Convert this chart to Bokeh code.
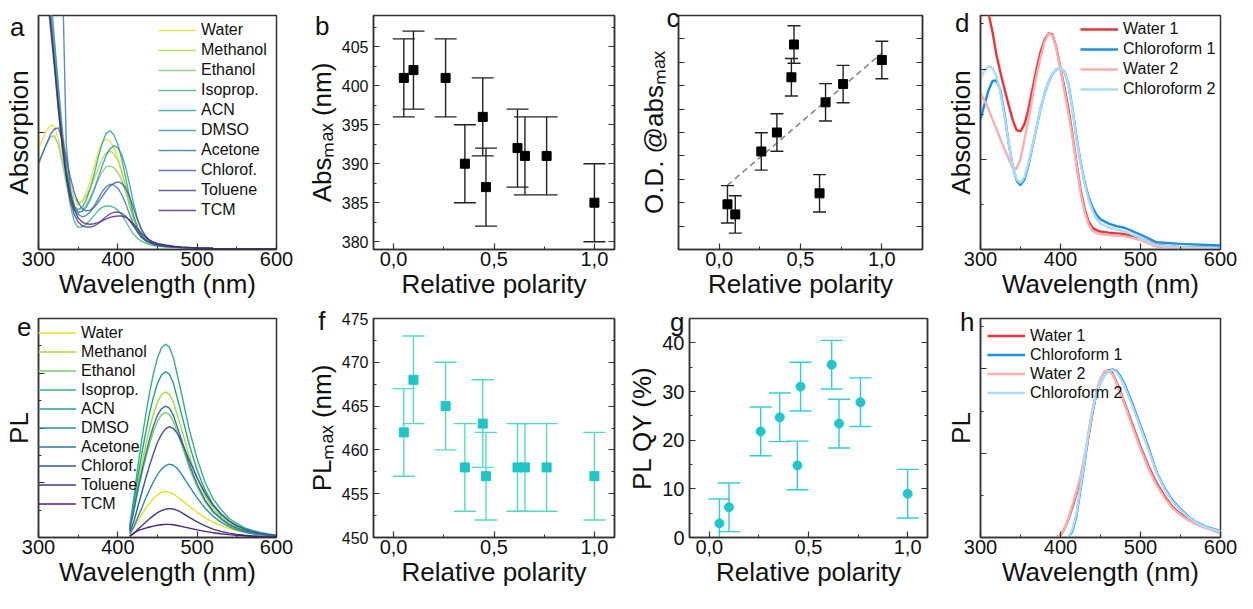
import math
from bokeh.plotting import figure
from bokeh.layouts import row, column
from bokeh.models import (FixedTicker, LinearAxis, Legend, LegendItem,
                          Range1d, CustomJSTickFormatter)
from bokeh.embed import file_html
from bokeh.resources import INLINE

FONT = "Liberation Sans"
INK = "#111111"
EDGE = "#333333"

# ------------------------------------------------------------------ data
SOLVENTS = ["Water", "Methanol", "Ethanol", "Isoprop.", "ACN", "DMSO",
            "Acetone", "Chlorof.", "Toluene", "TCM"]
SOLVENT_COLORS = ["#e2e21e", "#aad83a", "#78cc6a", "#34b47c", "#20a38e",
                  "#2592a0", "#2f75a0", "#3a58a2", "#45398f", "#4e1f7e"]

WL_TICKS = [300, 400, 500, 600]
WL_MINOR = [350, 450, 550]

# panel a : absorption spectra (relative units, frame = 0..1)
WL_ABS = [300, 305, 310, 315, 320, 325, 330, 335, 340, 345, 350, 355, 360, 365,
          370, 375, 380, 385, 390, 395, 400, 405, 410, 415, 420, 425, 430, 435,
          440, 445, 450, 460, 470, 480, 500, 520, 550, 600]
ABS_WATER = [0.43, 0.47, 0.51, 0.53, 0.53, 0.47, 0.39, 0.31, 0.24, 0.20, 0.19, 0.205, 0.24, 0.29,
             0.355, 0.415, 0.457, 0.472, 0.464, 0.436, 0.393, 0.336, 0.265, 0.187, 0.123, 0.08,
             0.051, 0.034, 0.026, 0.02, 0.016, 0.012, 0.009, 0.007, 0.005, 0.004, 0.003, 0.002]
ABS_METHANOL = [1.5, 1.35, 1.2, 1.05, 0.88, 0.7, 0.52, 0.38, 0.28, 0.22, 0.2, 0.205, 0.225, 0.26,
                0.3, 0.345, 0.385, 0.412, 0.42, 0.41, 0.38, 0.33, 0.27, 0.2, 0.14, 0.095,
                0.062, 0.042, 0.03, 0.023, 0.018, 0.013, 0.01, 0.008, 0.006, 0.004, 0.003, 0.002]
ABS_ETHANOL = [0.36, 0.41, 0.45, 0.48, 0.486, 0.45, 0.37, 0.28, 0.21, 0.17, 0.158, 0.165, 0.19, 0.22,
               0.255, 0.295, 0.33, 0.352, 0.357, 0.35, 0.33, 0.295, 0.245, 0.185, 0.13, 0.088,
               0.058, 0.04, 0.029, 0.022, 0.017, 0.013, 0.01, 0.008, 0.006, 0.004, 0.003, 0.002]
ABS_ISOPROP = [1.6, 1.4, 1.2, 1.0, 0.8, 0.6, 0.43, 0.3, 0.19, 0.12, 0.095, 0.097, 0.108, 0.125,
               0.145, 0.165, 0.18, 0.186, 0.186, 0.18, 0.168, 0.148, 0.12, 0.09, 0.065, 0.047,
               0.035, 0.027, 0.021, 0.017, 0.014, 0.011, 0.009, 0.007, 0.005, 0.004, 0.003, 0.002]
ABS_ACN = [1.55, 1.38, 1.2, 1.02, 0.84, 0.66, 0.48, 0.34, 0.24, 0.185, 0.17, 0.18, 0.21, 0.26,
           0.32, 0.39, 0.45, 0.495, 0.507, 0.49, 0.45, 0.385, 0.305, 0.22, 0.145, 0.09,
           0.058, 0.04, 0.03, 0.023, 0.018, 0.013, 0.01, 0.008, 0.006, 0.004, 0.003, 0.002]
ABS_DMSO = [1.7, 1.5, 1.3, 1.1, 0.9, 0.7, 0.5, 0.35, 0.245, 0.185, 0.16, 0.162, 0.18, 0.21,
            0.255, 0.305, 0.355, 0.4, 0.43, 0.443, 0.435, 0.405, 0.35, 0.275, 0.195, 0.128,
            0.082, 0.055, 0.039, 0.029, 0.022, 0.016, 0.012, 0.009, 0.006, 0.004, 0.003, 0.002]
ABS_ACETONE = [3.0, 3.0, 3.0, 3.0, 3.0, 2.4, 1.2, 0.45, 0.26, 0.18, 0.15, 0.14, 0.145, 0.16,
               0.185, 0.215, 0.245, 0.268, 0.279, 0.276, 0.262, 0.235, 0.195, 0.148, 0.105, 0.072,
               0.05, 0.036, 0.028, 0.022, 0.018, 0.014, 0.011, 0.008, 0.006, 0.004, 0.003, 0.002]
ABS_CHLOROF = [0.37, 0.41, 0.45, 0.49, 0.515, 0.52, 0.47, 0.39, 0.31, 0.245, 0.2, 0.175, 0.165, 0.168,
               0.18, 0.2, 0.225, 0.25, 0.27, 0.283, 0.289, 0.283, 0.262, 0.225, 0.175, 0.125,
               0.085, 0.058, 0.04, 0.03, 0.023, 0.017, 0.013, 0.01, 0.007, 0.005, 0.003, 0.002]
ABS_TOLUENE = [1.45, 1.3, 1.12, 0.95, 0.78, 0.6, 0.44, 0.31, 0.21, 0.15, 0.118, 0.102, 0.096, 0.096,
               0.1, 0.11, 0.125, 0.14, 0.152, 0.159, 0.16, 0.155, 0.142, 0.122, 0.098, 0.075,
               0.056, 0.042, 0.032, 0.025, 0.02, 0.015, 0.012, 0.009, 0.006, 0.004, 0.003, 0.002]
ABS_TCM = [1.5, 1.33, 1.16, 0.98, 0.8, 0.62, 0.45, 0.32, 0.23, 0.17, 0.135, 0.118, 0.11, 0.108,
           0.11, 0.115, 0.122, 0.13, 0.137, 0.141, 0.143, 0.143, 0.138, 0.126, 0.108, 0.088,
           0.068, 0.052, 0.04, 0.032, 0.026, 0.019, 0.014, 0.011, 0.007, 0.005, 0.003, 0.002]
ABS_CURVES = [ABS_WATER, ABS_METHANOL, ABS_ETHANOL, ABS_ISOPROP, ABS_ACN,
              ABS_DMSO, ABS_ACETONE, ABS_CHLOROF, ABS_TOLUENE, ABS_TCM]

# panels b, c, f, g : values versus relative polarity
POLARITY = [0.051, 0.099, 0.259, 0.355, 0.444, 0.460, 0.617, 0.654, 0.762, 1.0]
POL_TICKS = [0.0, 0.5, 1.0]
POL_MINOR = [0.25, 0.75]
ABS_MAX = [401, 402, 401, 390, 396, 387, 392, 391, 391, 385]
ABS_MAX_ERR = [5, 5, 5, 5, 5, 5, 5, 5, 5, 5]
OD_AT_MAX = [1.93, 1.5, 4.19, 5.0, 7.36, 8.76, 2.4, 6.29, 7.07, 8.1]
OD_ERR = [0.8, 0.8, 0.8, 0.8, 0.8, 0.8, 0.8, 0.8, 0.8, 0.8]
FIT_X = [0.05, 1.0]
FIT_Y = [2.74, 8.39]
PL_MAX = [462, 468, 465, 458, 463, 457, 458, 458, 458, 457]
PL_MAX_ERR = [5, 5, 5, 5, 5, 5, 5, 5, 5, 5]
PLQY = [2.9, 6.2, 21.8, 24.7, 14.8, 31.0, 35.5, 23.4, 27.8, 9.0]
PLQY_ERR = [5, 5, 5, 5, 5, 5, 5, 5, 5, 5]

# panel d : absorption, repeated measurements
REP_LABELS = ["Water 1", "Chloroform 1", "Water 2", "Chloroform 2"]
REP_COLORS = ["#ee3338", "#1a8fe6", "#f6b0b0", "#aadcf8"]
D_WATER1 = [1.15, 1.06, 1.01, 0.93, 0.83, 0.755, 0.686, 0.62, 0.557, 0.51, 0.505, 0.536, 0.6, 0.686,
            0.77, 0.843, 0.895, 0.924, 0.918, 0.86, 0.775, 0.69, 0.6, 0.49, 0.37, 0.257,
            0.175, 0.12, 0.093, 0.082, 0.077, 0.072, 0.069, 0.066, 0.05, 0.02, 0.01, 0.007]
D_CHL1 = [0.557, 0.62, 0.68, 0.72, 0.722, 0.68, 0.58, 0.46, 0.36, 0.295, 0.275, 0.3, 0.36, 0.44,
          0.52, 0.6, 0.665, 0.715, 0.75, 0.77, 0.774, 0.76, 0.705, 0.6, 0.48, 0.375,
          0.29, 0.225, 0.18, 0.148, 0.129, 0.111, 0.1, 0.093, 0.064, 0.031, 0.024, 0.017]
D_WATER2 = [0.671, 0.635, 0.6, 0.556, 0.514, 0.47, 0.429, 0.39, 0.35, 0.345, 0.386, 0.47, 0.557, 0.65,
            0.743, 0.82, 0.886, 0.922, 0.915, 0.855, 0.77, 0.675, 0.58, 0.48, 0.36, 0.245,
            0.162, 0.108, 0.08, 0.07, 0.066, 0.062, 0.06, 0.057, 0.04, 0.012, 0.005, 0.003]
D_CHL2 = [0.729, 0.765, 0.783, 0.775, 0.74, 0.67, 0.57, 0.46, 0.36, 0.3, 0.285, 0.31, 0.37, 0.445,
          0.525, 0.6, 0.665, 0.715, 0.75, 0.77, 0.774, 0.76, 0.7, 0.595, 0.475, 0.37,
          0.283, 0.215, 0.165, 0.13, 0.11, 0.095, 0.085, 0.078, 0.05, 0.018, 0.01, 0.005]
D_CURVES = [D_WATER1, D_CHL1, D_WATER2, D_CHL2]

# panel e : PL spectra
WL_PL = [415, 420, 425, 430, 435, 440, 445, 450, 455, 460, 465, 470, 475, 480, 490, 500,
         510, 520, 530, 540, 550, 560, 570, 580, 590, 600]
PL_WATER = [0.013, 0.042, 0.076, 0.105, 0.132, 0.157, 0.178, 0.195, 0.206, 0.21, 0.207, 0.198, 0.186,
            0.172, 0.143, 0.115, 0.09, 0.07, 0.054, 0.041, 0.031, 0.024, 0.018, 0.013, 0.01, 0.007]
PL_METHANOL = [0.04, 0.133, 0.239, 0.333, 0.419, 0.499, 0.565, 0.618, 0.652, 0.665, 0.655, 0.618, 0.559,
               0.499, 0.372, 0.269, 0.19, 0.133, 0.096, 0.067, 0.048, 0.033, 0.024, 0.017, 0.012, 0.008]
PL_ETHANOL = [0.034, 0.114, 0.206, 0.286, 0.36, 0.428, 0.485, 0.531, 0.56, 0.571, 0.562, 0.531, 0.48,
              0.428, 0.32, 0.231, 0.163, 0.114, 0.083, 0.057, 0.041, 0.029, 0.021, 0.015, 0.01, 0.007]
PL_ISOPROP = [0.053, 0.177, 0.318, 0.442, 0.556, 0.662, 0.751, 0.821, 0.865, 0.883, 0.87, 0.821, 0.742,
              0.662, 0.494, 0.358, 0.252, 0.177, 0.128, 0.088, 0.064, 0.044, 0.032, 0.023, 0.016, 0.011]
PL_ACN = [0.045, 0.151, 0.273, 0.379, 0.477, 0.568, 0.643, 0.704, 0.742, 0.757, 0.746, 0.704, 0.636,
          0.568, 0.424, 0.307, 0.216, 0.151, 0.11, 0.076, 0.055, 0.038, 0.027, 0.02, 0.014, 0.009]
PL_DMSO = [0.017, 0.047, 0.09, 0.134, 0.178, 0.218, 0.255, 0.288, 0.312, 0.328, 0.335, 0.33, 0.315,
           0.291, 0.235, 0.181, 0.134, 0.097, 0.07, 0.05, 0.035, 0.025, 0.017, 0.012, 0.009, 0.006]
PL_ACETONE = [0.036, 0.12, 0.216, 0.3, 0.378, 0.45, 0.51, 0.558, 0.588, 0.6, 0.591, 0.558, 0.504,
              0.45, 0.336, 0.243, 0.171, 0.12, 0.087, 0.06, 0.043, 0.03, 0.022, 0.016, 0.011, 0.007]
PL_CHLOROF = [0.025, 0.071, 0.137, 0.202, 0.268, 0.329, 0.385, 0.435, 0.471, 0.496, 0.506, 0.498, 0.476,
              0.44, 0.354, 0.273, 0.202, 0.147, 0.106, 0.076, 0.053, 0.038, 0.026, 0.019, 0.013, 0.009]
PL_TOLUENE = [0.007, 0.018, 0.036, 0.053, 0.07, 0.086, 0.1, 0.114, 0.123, 0.129, 0.132, 0.13, 0.124,
              0.115, 0.092, 0.071, 0.053, 0.038, 0.028, 0.02, 0.014, 0.01, 0.007, 0.005, 0.003, 0.002]
PL_TCM = [0.005, 0.02, 0.03, 0.037, 0.043, 0.048, 0.052, 0.056, 0.058, 0.06, 0.06, 0.058, 0.055,
          0.051, 0.043, 0.035, 0.028, 0.022, 0.017, 0.013, 0.01, 0.008, 0.006, 0.004, 0.003, 0.002]
PL_CURVES = [PL_WATER, PL_METHANOL, PL_ETHANOL, PL_ISOPROP, PL_ACN,
             PL_DMSO, PL_ACETONE, PL_CHLOROF, PL_TOLUENE, PL_TCM]

# panel h : PL, repeated measurements
WL_H_WATER = [395, 400, 405, 410, 415, 420, 425, 430, 435, 440, 445, 450, 455, 460, 465, 470,
              475, 480, 490, 500, 510, 520, 530, 540, 550, 560, 570, 580, 590, 600]
WL_H_CHL = [410, 415, 420, 425, 430, 435, 440, 445, 450, 455, 460, 465, 470,
            475, 480, 490, 500, 510, 520, 530, 540, 550, 560, 570, 580, 590, 600]
H_WATER1 = [0.0, 0.01, 0.04, 0.085, 0.14, 0.2, 0.27, 0.36, 0.46, 0.57, 0.66, 0.72, 0.755, 0.765, 0.75,
            0.71, 0.665, 0.615, 0.515, 0.415, 0.325, 0.25, 0.19, 0.14, 0.108, 0.082, 0.064, 0.048,
            0.035, 0.023]
H_WATER2 = [0.0, 0.01, 0.04, 0.09, 0.15, 0.21, 0.28, 0.37, 0.47, 0.58, 0.665, 0.725, 0.758, 0.762, 0.745,
            0.705, 0.658, 0.608, 0.505, 0.405, 0.315, 0.24, 0.182, 0.134, 0.103, 0.078, 0.06, 0.045,
            0.032, 0.02]
H_CHL1 = [0.0, 0.03, 0.1, 0.22, 0.34, 0.47, 0.58, 0.66, 0.71, 0.74, 0.76, 0.768, 0.76, 0.735, 0.7,
          0.61, 0.51, 0.41, 0.3, 0.225, 0.17, 0.13, 0.095, 0.07, 0.052, 0.04, 0.03]
H_CHL2 = [0.0, 0.04, 0.11, 0.23, 0.35, 0.48, 0.585, 0.66, 0.71, 0.74, 0.758, 0.765, 0.755, 0.728, 0.69,
          0.6, 0.5, 0.4, 0.295, 0.22, 0.165, 0.125, 0.092, 0.068, 0.05, 0.038, 0.028]

# ------------------------------------------------------------------ layout constants
H1, H2 = 305, 288
BT1, BT2, BB = 15, 13, 56
FH1 = H1 - BT1 - BB
FH2 = H2 - BT2 - BB


def style_axis(ax):
    ax.axis_line_color = EDGE
    ax.axis_line_width = 1.5
    ax.major_tick_in = 6
    ax.major_tick_out = 0
    ax.minor_tick_in = 3
    ax.minor_tick_out = 0
    ax.major_tick_line_color = EDGE
    ax.minor_tick_line_color = EDGE
    ax.major_tick_line_width = 1.2
    ax.minor_tick_line_width = 1.0
    ax.major_label_text_font = FONT
    ax.major_label_text_color = INK
    ax.axis_label_text_font = FONT
    ax.axis_label_text_font_size = "26px"
    ax.axis_label_text_font_style = "normal"
    ax.axis_label_text_color = INK


def make_fig(w, h, bl, br, bt, xr, yr):
    p = figure(width=w, height=h, x_range=Range1d(*xr), y_range=Range1d(*yr),
               output_backend="svg", toolbar_location=None,
               min_border_left=bl, min_border_right=br, min_border_top=bt,
               min_border_bottom=BB)
    p.xgrid.visible = False
    p.ygrid.visible = False
    p.outline_line_color = EDGE
    p.outline_line_width = 1.5
    p.outline_line_alpha = 1.0
    p.background_fill_color = "white"
    p.border_fill_color = "white"
    for ax in p.axis:
        style_axis(ax)
    p.xaxis.major_label_text_font_size = "20px"
    p.xaxis.major_label_standoff = 2
    p.xaxis.axis_label_standoff = 0
    return p


def blank_labels(ax):
    ax.formatter = CustomJSTickFormatter(code="return '';")
    ax.major_label_standoff = 0


def mirror_right(p, ticks, minor):
    ax = LinearAxis(ticker=FixedTicker(ticks=ticks, minor_ticks=minor))
    style_axis(ax)
    blank_labels(ax)
    p.add_layout(ax, "right")


def letter_axis(p, letter, ypos, standoff):
    # panel letter, written as the single tick label of an extra, invisible left axis
    ax = LinearAxis(ticker=FixedTicker(ticks=[ypos], minor_ticks=[]),
                    formatter=CustomJSTickFormatter(code="return '%s';" % letter))
    ax.axis_line_alpha = 0
    ax.major_tick_line_alpha = 0
    ax.minor_tick_line_alpha = 0
    ax.major_tick_in = 0
    ax.major_tick_out = 0
    ax.minor_tick_in = 0
    ax.minor_tick_out = 0
    ax.major_label_text_font = FONT
    ax.major_label_text_font_size = "26px"
    ax.major_label_text_color = INK
    ax.major_label_standoff = standoff
    p.add_layout(ax, "left")


def wavelength_x(p):
    p.xaxis.ticker = FixedTicker(ticks=WL_TICKS, minor_ticks=WL_MINOR)
    p.xaxis.axis_label = "Wavelength (nm)"


def polarity_x(p):
    p.xaxis.ticker = FixedTicker(ticks=POL_TICKS, minor_ticks=POL_MINOR)
    p.xaxis.formatter = CustomJSTickFormatter(code="return tick.toFixed(1).replace('.', ',');")
    p.xaxis.axis_label = "Relative polarity"


def add_legend(p, items, vx, vy, gh):
    lg = Legend(items=items, location=(vx, vy), orientation="vertical",
                glyph_width=38, glyph_height=gh, label_height=gh, label_width=10,
                spacing=0, padding=0, margin=0, label_standoff=5,
                label_text_font=FONT, label_text_font_size="16px", label_text_color=INK,
                border_line_alpha=0, background_fill_alpha=0)
    p.add_layout(lg)


def errorbars(p, xs, ys, errs, color, cap, lw=1.4):
    lo = [y - e for y, e in zip(ys, errs)]
    hi = [y + e for y, e in zip(ys, errs)]
    p.segment(x0=xs, y0=lo, x1=xs, y1=hi, line_color=color, line_width=lw)
    p.scatter(xs, lo, marker="dash", size=cap, line_color=color, line_width=lw)
    p.scatter(xs, hi, marker="dash", size=cap, line_color=color, line_width=lw)


# ------------------------------------------------------------------ panel a
pa = make_fig(303, H1, 35, 27, BT1, (300, 600), (0, 1))
wavelength_x(pa)
pa.yaxis.ticker = FixedTicker(ticks=[0.5, 1.0], minor_ticks=[])
blank_labels(pa.yaxis[0])
pa.yaxis.axis_label = "Absorption"
pa.yaxis.axis_label_standoff = 5
items = []
for name, col, ys in zip(SOLVENTS, SOLVENT_COLORS, ABS_CURVES):
    r = pa.line(WL_ABS, ys, line_color=col, line_width=1.4, line_alpha=0.8)
    items.append(LegendItem(label=name, renderers=[r]))
add_legend(pa, items, 120, FH1 - 5 - 200, 20)
letter_axis(pa, "a", 0.949, -24)

# ------------------------------------------------------------------ panel b
pb = make_fig(325, H1, 66, 14, BT1, (-0.1, 1.1), (379, 409))
polarity_x(pb)
B_TICKS = [380, 385, 390, 395, 400, 405]
B_MINOR = [382.5, 387.5, 392.5, 397.5, 402.5, 407.5]
pb.yaxis.ticker = FixedTicker(ticks=B_TICKS, minor_ticks=B_MINOR)
pb.yaxis.major_label_text_font_size = "16px"
pb.yaxis.major_label_standoff = 5
pb.yaxis.axis_label = "Abs\u2098\u2090\u2093 (nm)"
pb.yaxis.axis_label_standoff = 2
mirror_right(pb, B_TICKS, B_MINOR)
errorbars(pb, POLARITY, ABS_MAX, ABS_MAX_ERR, "#222222", 22)
pb.scatter(POLARITY, ABS_MAX, marker="square", size=9, color="#000000")
letter_axis(pb, "b", 407.7, -26)

# ------------------------------------------------------------------ panel c
pc = make_fig(314, H1, 50, 20, BT1, (-0.25, 1.25), (0, 10))
polarity_x(pc)
C_TICKS = [1, 2, 3, 4, 5, 6, 7, 8, 9]
pc.yaxis.ticker = FixedTicker(ticks=C_TICKS, minor_ticks=[])
blank_labels(pc.yaxis[0])
pc.yaxis.axis_label = "O.D. @abs\u2098\u2090\u2093"
pc.yaxis.axis_label_standoff = 10
mirror_right(pc, C_TICKS, [])
pc.line(FIT_X, FIT_Y, line_color="#8a8a8a", line_width=1.6, line_dash="6 4")
errorbars(pc, POLARITY, OD_AT_MAX, OD_ERR, "#222222", 13)
pc.scatter(POLARITY, OD_AT_MAX, marker="square", size=9, color="#000000")
letter_axis(pc, "c", 9.91, -44)

# ------------------------------------------------------------------ panel d
pd_ = make_fig(295, H1, 35, 17, BT1, (300, 600), (0, 1))
wavelength_x(pd_)
pd_.yaxis.ticker = FixedTicker(ticks=[0.386, 0.771], minor_ticks=[0.193, 0.579, 0.964])
blank_labels(pd_.yaxis[0])
pd_.yaxis.axis_label = "Absorption"
pd_.yaxis.axis_label_standoff = 5
items = []
for name, col, ys in zip(REP_LABELS, REP_COLORS, D_CURVES):
    r = pd_.line(WL_ABS, ys, line_color=col, line_width=2.4)
    items.append(LegendItem(label=name, renderers=[r]))
add_legend(pd_, items, 100, FH1 - 4 - 80, 20)
letter_axis(pd_, "d", 0.966, -27)

# ------------------------------------------------------------------ panel e
pe = make_fig(303, H2, 35, 27, BT2, (300, 600), (0, 1))
wavelength_x(pe)
pe.yaxis.ticker = FixedTicker(ticks=[0.25, 0.5, 0.75], minor_ticks=[0.125, 0.375, 0.625, 0.875])
blank_labels(pe.yaxis[0])
pe.yaxis.axis_label = "PL"
pe.yaxis.axis_label_standoff = 5
items = []
for name, col, ys in zip(SOLVENTS, SOLVENT_COLORS, PL_CURVES):
    r = pe.line(WL_PL, ys, line_color=col, line_width=1.4)
    items.append(LegendItem(label=name, renderers=[r]))
add_legend(pe, items, 0, FH2 - 5 - 190, 19)
letter_axis(pe, "e", 0.963, -31)

# ------------------------------------------------------------------ panel f
pf = make_fig(321, H2, 66, 10, BT2, (-0.1, 1.1), (450, 475))
polarity_x(pf)
F_TICKS = [450, 455, 460, 465, 470, 475]
F_MINOR = [452.5, 457.5, 462.5, 467.5, 472.5]
pf.yaxis.ticker = FixedTicker(ticks=F_TICKS, minor_ticks=F_MINOR)
pf.yaxis.major_label_text_font_size = "16px"
pf.yaxis.major_label_standoff = 5
pf.yaxis.axis_label = "PL\u2098\u2090\u2093 (nm)"
pf.yaxis.axis_label_standoff = 2
mirror_right(pf, F_TICKS, F_MINOR)
errorbars(pf, POLARITY, PL_MAX, PL_MAX_ERR, "#4ddfc2", 22)
pf.scatter(POLARITY, PL_MAX, marker="square", size=9, color="#1ec6c6")
letter_axis(pf, "f", 474.77, -22)

# ------------------------------------------------------------------ panel g
pg = make_fig(318, H2, 60, 15, BT2, (-0.1, 1.1), (0, 45))
polarity_x(pg)
G_TICKS = [0, 10, 20, 30, 40]
G_MINOR = [5, 15, 25, 35]
pg.yaxis.ticker = FixedTicker(ticks=G_TICKS, minor_ticks=G_MINOR)
pg.yaxis.major_label_text_font_size = "20px"
pg.yaxis.major_label_standoff = 5
pg.yaxis.axis_label = "PL QY (%)"
pg.yaxis.axis_label_standoff = 2
mirror_right(pg, G_TICKS, G_MINOR)
errorbars(pg, POLARITY, PLQY, PLQY_ERR, "#30cfd0", 22)
pg.scatter(POLARITY, PLQY, marker="circle", size=9, color="#1ec8c8")
letter_axis(pg, "g", 44.38, -60)

# ------------------------------------------------------------------ panel h
ph = make_fig(295, H2, 35, 17, BT2, (300, 600), (0, 1))
wavelength_x(ph)
ph.yaxis.ticker = FixedTicker(ticks=[0.385, 0.77], minor_ticks=[0.1925, 0.5775, 0.9625])
blank_labels(ph.yaxis[0])
ph.yaxis.axis_label = "PL"
ph.yaxis.axis_label_standoff = 5
r1 = ph.line(WL_H_WATER, H_WATER1, line_color=REP_COLORS[0], line_width=2.4)
r2 = ph.line(WL_H_CHL, H_CHL1, line_color=REP_COLORS[1], line_width=2.4)
r3 = ph.line(WL_H_WATER, H_WATER2, line_color=REP_COLORS[2], line_width=2.4)
r4 = ph.line(WL_H_CHL, H_CHL2, line_color=REP_COLORS[3], line_width=2.4)
items = [LegendItem(label=n, renderers=[r]) for n, r in zip(REP_LABELS, [r1, r2, r3, r4])]
add_legend(ph, items, 7, FH2 - 8 - 76, 19)
letter_axis(ph, "h", 0.986, -32)

layout = column(row(pa, pb, pc, pd_), row(pe, pf, pg, ph))
open("out.html", "w").write(file_html(layout, INLINE))
